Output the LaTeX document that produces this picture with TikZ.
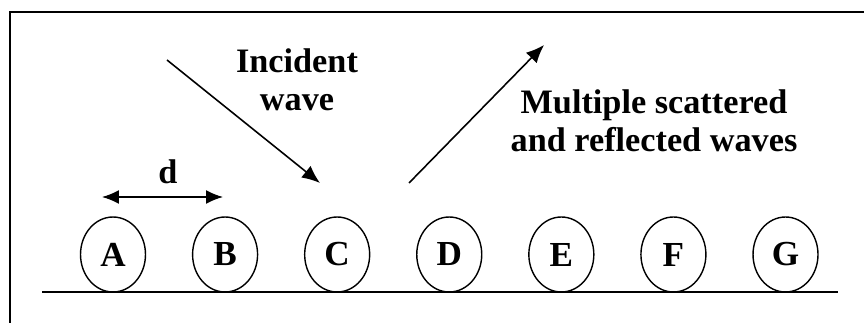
\documentclass[tikz,border=0pt]{standalone}
\usepackage{fontspec}
\setmainfont{Liberation Serif}
\usepackage{tikz}
\usetikzlibrary{positioning,arrows.meta,shapes.geometric}

\begin{document}
\begin{tikzpicture}[
    x=0.02cm, y=-0.02cm,
    node distance=0.914cm,
    ball/.style={draw, ellipse, line width=0.8pt, minimum width=1.3cm, minimum height=1.5cm, inner sep=0pt, font=\bfseries\fontsize{20}{22}\selectfont},
    label/.style={align=center, font=\bfseries\fontsize{19.5}{21.8}\selectfont},
    arrow/.style={-{Latex[length=3.6mm, width=3mm]}, line width=0.9pt}
]
\useasboundingbox (0,0) rectangle (864,323);
% frame
\draw[line width=1pt] (10,323) -- (10,12) -- (864,12);

% row of scatterers
\node[ball] (A) at (113,254.5) {A};
\node[ball, right=of A] (B) {B};
\node[ball, right=of B] (C) {C};
\node[ball, right=of C] (D) {D};
\node[ball, right=of D] (E) {E};
\node[ball, right=of E] (F) {F};
\node[ball, right=of F] (G) {G};
\coordinate (floorL) at (42,292);
\coordinate (floorR) at (838,292);
\draw[line width=1pt] (floorL) -- (floorR);

% spacing
\coordinate (dL) at (102,197);
\coordinate (dR) at (223,197);
\draw[{Latex[length=3.4mm, width=2.8mm]}-{Latex[length=3.4mm, width=2.8mm]}, line width=0.9pt] (dL) -- (dR);
\node[label] (dlab) at (168,172) {d};

% waves
\coordinate (inS) at (167,60);
\coordinate (inE) at (320,183);
\coordinate (outS) at (409,183);
\coordinate (outE) at (544,45);
\draw[arrow] (inS) -- (inE);
\draw[arrow] (outS) -- (outE);
\node[label] (incident) at (297,80) {Incident\\wave};
\node[label] (scattered) at (654,121) {Multiple scattered\\and reflected waves};
\end{tikzpicture}
\end{document}
